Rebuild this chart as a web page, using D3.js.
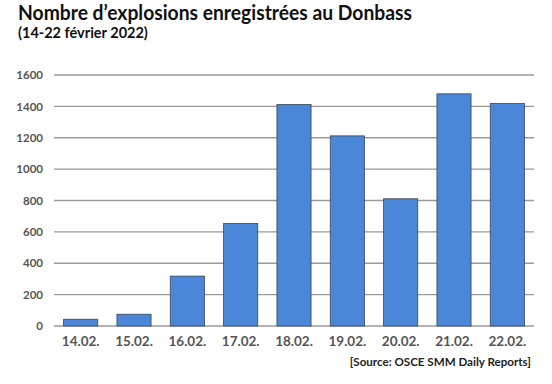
<!DOCTYPE html>
<html>
<head>
<meta charset="utf-8">
<script src="https://cdn.jsdelivr.net/npm/d3@7"></script>
<style>
  body { margin: 0; background: #fff; }
  svg text { font-family: Lato, "DejaVu Sans", sans-serif; }
</style>
</head>
<body>
<svg id="chart" width="552" height="384"></svg>
<script>
'use strict';

const days = ["14.02.", "15.02.", "16.02.", "17.02.", "18.02.", "19.02.", "20.02.", "21.02.", "22.02."];
const explosions = [43, 75, 318, 654, 1412, 1212, 811, 1480, 1418];
const yTicks = [0, 200, 400, 600, 800, 1000, 1200, 1400, 1600];

const margin = { top: 75, left: 54, bottom: 58, right: 18 };
const width = 552, height = 384;

const svg = d3.select("#chart");

// titles
svg.append("text")
    .attr("x", 18).attr("y", 20)
    .attr("font-size", 20).attr("font-weight", "bold").attr("fill", "#111")
    .attr("textLength", 394).attr("lengthAdjust", "spacingAndGlyphs")
    .text("Nombre d’explosions enregistrées au Donbass");

svg.append("text")
    .attr("x", 18).attr("y", 38)
    .attr("font-size", 14.5).attr("font-weight", "bold").attr("fill", "#111")
    .text("(14-22 février 2022)");

const x = d3.scaleBand()
    .domain(days)
    .range([margin.left, width - margin.right])
    .paddingInner(0.36)
    .paddingOuter(0.18);

const y = d3.scaleLinear()
    .domain([0, 1600])
    .range([height - margin.bottom, margin.top]);

// gridlines
svg.append("g")
    .selectAll("line")
    .data(yTicks)
    .join("line")
    .attr("x1", margin.left).attr("x2", width - margin.right)
    .attr("y1", d => y(d)).attr("y2", d => y(d))
    .attr("stroke", "#9a9a9a").attr("stroke-width", 1.3);

// y labels
svg.append("g")
    .call(d3.axisLeft(y).tickValues(yTicks).tickFormat(d3.format("d")).tickSize(0).tickPadding(11))
    .attr("transform", `translate(${margin.left},0)`)
    .call(g => g.select(".domain").remove())
    .selectAll("text")
    .attr("font-size", 11.5).attr("font-weight", "bold").attr("fill", "#555");

// bars
svg.append("g")
    .selectAll("rect")
    .data(explosions)
    .join("rect")
    .attr("x", (d, i) => x(days[i]))
    .attr("y", d => y(d))
    .attr("width", x.bandwidth())
    .attr("height", d => y(0) - y(d))
    .attr("fill", "#4a87d9")
    .attr("stroke", "#3a4556").attr("stroke-width", 0.8);

// x labels
svg.append("g")
    .attr("transform", `translate(0,${y(0)})`)
    .call(d3.axisBottom(x).tickSize(0).tickPadding(10))
    .call(g => g.select(".domain").remove())
    .selectAll("text")
    .attr("font-size", 13.5).attr("font-weight", "bold").attr("fill", "#555");

// source
svg.append("text")
    .attr("x", 531).attr("y", 366)
    .attr("text-anchor", "end")
    .attr("font-size", 11.6).attr("font-weight", "bold").attr("fill", "#222")
    .text("[Source: OSCE SMM Daily Reports]");
</script>
</body>
</html>
